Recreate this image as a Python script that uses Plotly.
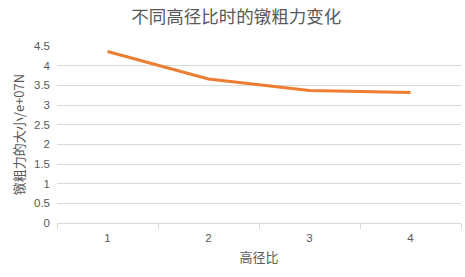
import plotly.graph_objects as go

categories = ["1", "2", "3", "4"]
force_values = [4.36, 3.66, 3.37, 3.32]
y_ticks = [0, 0.5, 1, 1.5, 2, 2.5, 3, 3.5, 4, 4.5]
y_tick_labels = ["0", "0.5", "1", "1.5", "2", "2.5", "3", "3.5", "4", "4.5"]

title_text = "不同高径比时的镦粗力变化"
x_title = "高径比"
y_title = "镦粗力的大小/e+07N"

grey = "#595959"
grid = "#d9d9d9"
cjk = "Noto Sans CJK SC, sans-serif"
num_font = "Liberation Sans, Arial, sans-serif"

fig = go.Figure()
fig.add_trace(go.Scatter(
    x=categories, y=force_values, mode="lines",
    line=dict(color="#ED7D31", width=3),
    showlegend=False, hoverinfo="skip",
))

fig.update_layout(
    width=465, height=277,
    margin=dict(l=57, r=4, t=46, b=54),
    paper_bgcolor="white", plot_bgcolor="white",
    title=dict(text=title_text, x=0.508, xanchor="center", y=0.94, yanchor="middle",
               font=dict(family=cjk, size=17.5, color=grey)),
    xaxis=dict(
        type="category", range=[-0.5, 3.5],
        tickson="boundaries", ticks="outside", ticklen=5, tickcolor=grid,
        showgrid=False, showline=True, linecolor=grid, linewidth=1,
        ticklabelstandoff=4,
        tickfont=dict(family=num_font, size=11.5, color=grey),
        title=dict(text=x_title, font=dict(family=cjk, size=13, color=grey), standoff=10),
        zeroline=False, fixedrange=True,
    ),
    yaxis=dict(
        range=[0, 4.5], tickvals=y_ticks, ticktext=y_tick_labels,
        showgrid=True, gridcolor=grid, gridwidth=1,
        zeroline=False, showline=False, ticks="",
        ticklabelstandoff=6,
        tickfont=dict(family=num_font, size=11.5, color=grey),
        title=dict(text=y_title, font=dict(family=cjk, size=13, color=grey), standoff=6),
        fixedrange=True,
    ),
)

fig.write_html("out.html")
